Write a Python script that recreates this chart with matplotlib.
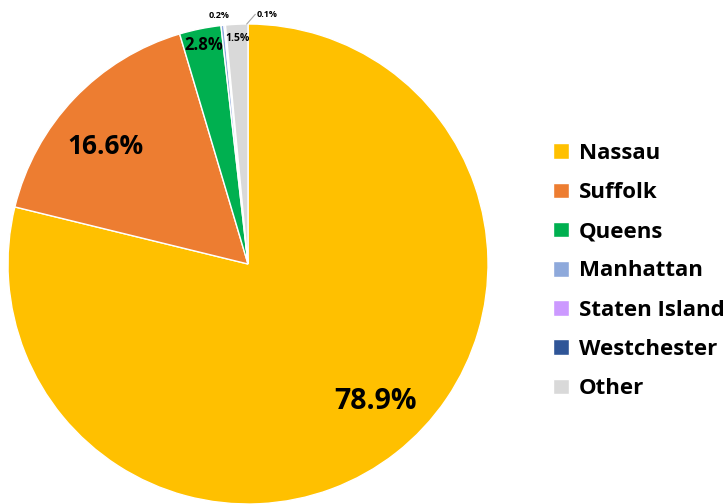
import numpy as np
import matplotlib.pyplot as plt

counties = ['Nassau', 'Suffolk', 'Queens', 'Manhattan', 'Staten Island', 'Westchester', 'Other']
shares = [78.9, 16.6, 2.8, 0.2, 0.1, 0.0, 1.5]
colors = ['#FFC000', '#ED7D31', '#00B050', '#8EA9DB', '#CC99FF', '#2F5597', '#D9D9D9']
label_sizes = [20.5, 19, 12, 6.5, 6.5, 0, 7.5]

plt.rcParams['font.family'] = ['Open Sans', 'DejaVu Sans']
plt.rcParams['font.weight'] = 'bold'

fig = plt.figure(figsize=(7.25, 5.04), dpi=100)
ax = fig.add_axes([8 / 725, 0, 480 / 725, 480 / 504])
wedges, _ = ax.pie(shares, colors=colors, startangle=90, counterclock=False,
                   wedgeprops=dict(edgecolor='white', linewidth=1))
ax.set_xlim(-1, 1)
ax.set_ylim(-1, 1)
ax.set_aspect('equal')

# label distance from centre per slice, plus small nudges to match the original layout
dists = [0.78, 0.78, 0.93, 1.04, 1.04, 0, 0.94]
nudge = [(0.05, 0.04), (-0.03, -0.05), (0, 0), (-0.01, 0), (0, 0), (0, 0), (0, 0)]
for w, v, d, fs, (nx, ny) in zip(wedges, shares, dists, label_sizes, nudge):
    if v <= 0:
        continue
    ang = np.deg2rad((w.theta1 + w.theta2) / 2)
    x, y = d * np.cos(ang) + nx, d * np.sin(ang) + ny
    if v == 0.1:
        # label pushed right with a leader line
        ax.plot([-0.005, 0.03], [1.0, 1.04], color='#A6A6A6', lw=0.8, clip_on=False)
        ax.text(0.035, 1.04, '%.1f%%' % v, fontsize=fs, ha='left', va='center', fontweight='bold')
        continue
    ax.text(x, y, '%.1f%%' % v, fontsize=fs, ha='center', va='center', fontweight='bold')

leg = fig.legend(wedges, counties, loc='center left', bbox_to_anchor=(542 / 725, 233 / 504),
                 frameon=False, fontsize=16, handlelength=0.7, handleheight=0.7,
                 handletextpad=0.45, labelspacing=0.82, borderpad=0)
for t in leg.get_texts():
    t.set_fontweight('bold')

fig.savefig('out.png', dpi=100)
